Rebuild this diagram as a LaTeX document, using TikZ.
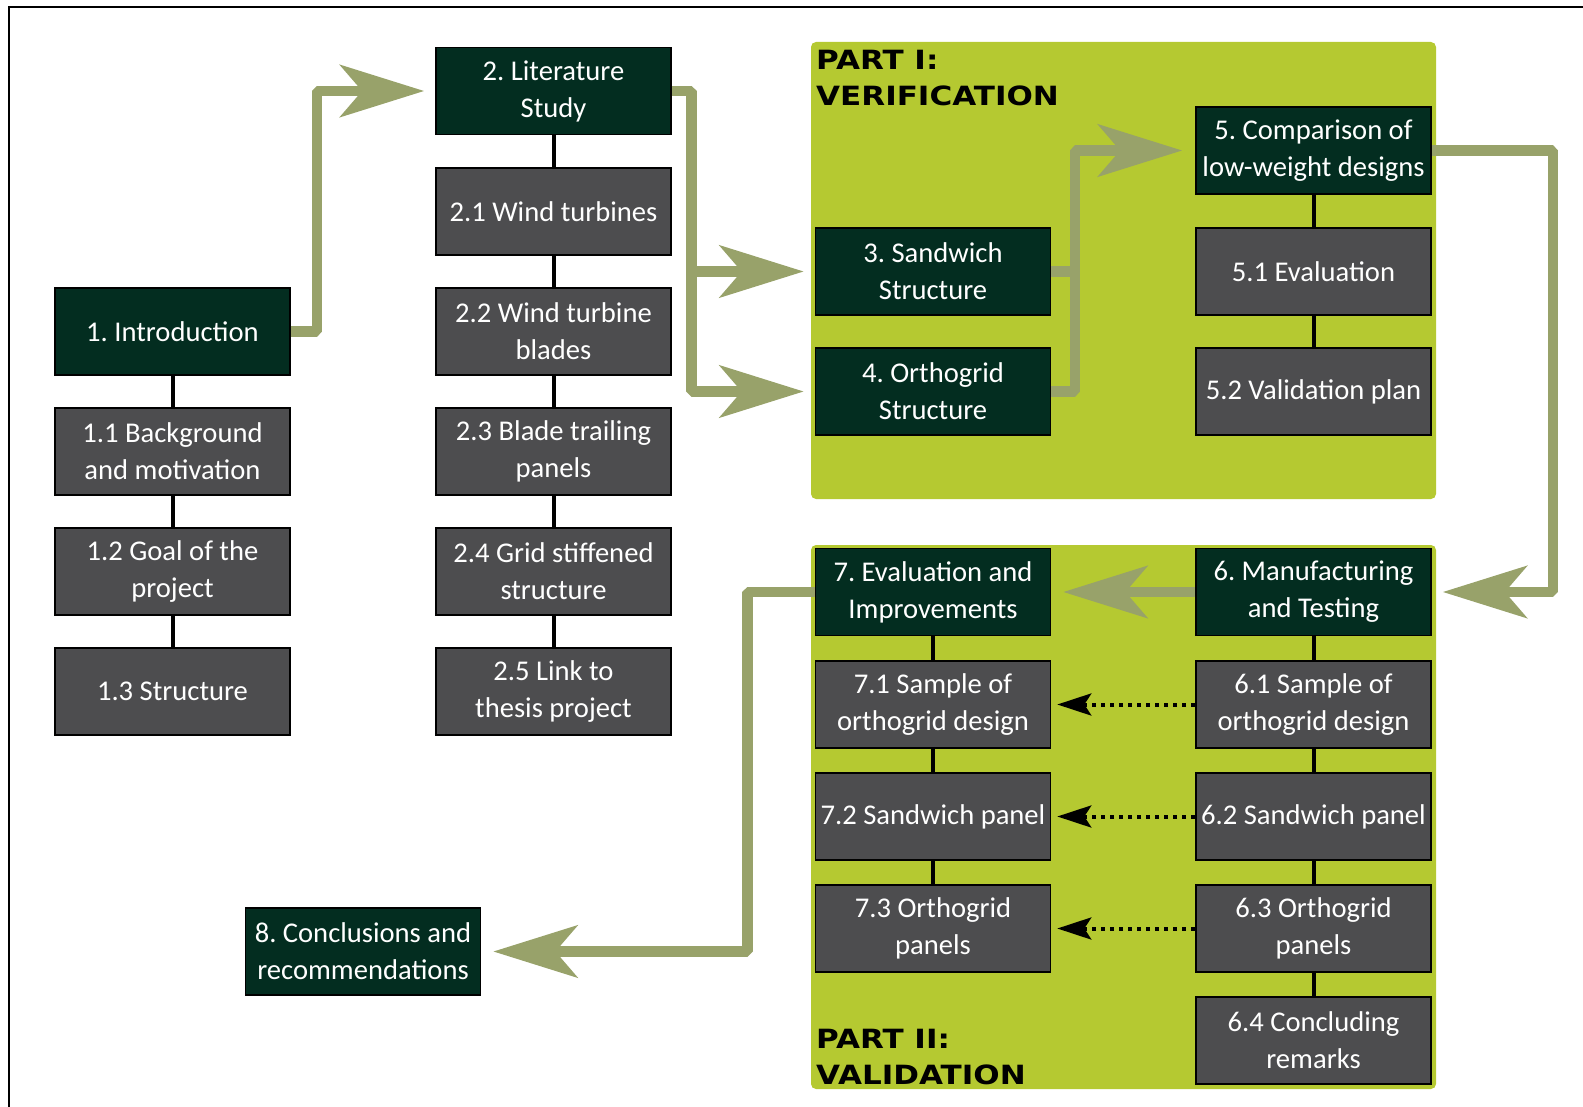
\documentclass[tikz,border=0pt]{standalone}
\usepackage{fontspec}
\setmainfont{Carlito}
\newfontfamily\titlefont{DejaVu Sans}[FakeStretch=1.17]
\usetikzlibrary{arrows.meta,calc}
\frenchspacing

\definecolor{headgreen}{RGB}{3,45,32}
\definecolor{subgrey}{RGB}{77,77,79}
\definecolor{partlime}{RGB}{181,201,49}
\definecolor{flowgreen}{RGB}{152,162,106}

\tikzset{
  box/.style={draw=black, line width=1.6pt, minimum width=235pt, minimum height=87pt,
              inner sep=2pt, align=center, text=white,
              font=\frenchspacing\fontsize{28.6}{37}\selectfont},
  headbox/.style={box, fill=headgreen},
  subbox/.style={box, fill=subgrey},
  partpanel/.style={fill=partlime, rounded corners=5pt},
  parttitle/.style={inner sep=0pt, align=left, text=black,
              font=\titlefont\bfseries\fontsize{26.5}{35.5}\selectfont},
  link/.style={draw=black, line width=4pt},
  flowline/.style={draw=flowgreen, line width=10.5pt, line join=bevel},
  flow/.style={flowline, -{Stealth[length=84pt,width=52pt,inset=22pt]}},
  hint/.style={draw=black, line width=4pt, dash pattern=on 4pt off 5pt,
              -{Stealth[length=34pt,width=22pt,inset=7pt]}},
}

\begin{document}
\begin{tikzpicture}[x=1pt,y=-1pt]
\useasboundingbox (0,0) rectangle (1583,1107);

% outer frame (top and left edges)
\draw[line width=2pt] (9,1107) -- (9,7) -- (1583,7);

% the two part panels
\fill[partpanel] (811,42) rectangle (1436,499);
\fill[partpanel] (811,545) rectangle (1436,1089);
\node[parttitle, anchor=north west] (t1) at (816,50) {PART I:\\VERIFICATION};
\node[parttitle, anchor=north west] (t2) at (816,1029) {PART II:\\VALIDATION};

% chapter 1
\node[headbox] (c1)  at (172.5,331.5) {1. Introduction};
\node[subbox]  (c11) at (172.5,451.5) {1.1 Background\\and motivation};
\node[subbox]  (c12) at (172.5,571.5) {1.2 Goal of the\\project};
\node[subbox]  (c13) at (172.5,691.5) {1.3 Structure};

% chapter 2
\node[headbox] (c2)  at (553.5,91)    {2. Literature\\Study};
\node[subbox]  (c21) at (553.5,211.5) {2.1 Wind turbines};
\node[subbox]  (c22) at (553.5,331.5) {2.2 Wind turbine\\blades};
\node[subbox]  (c23) at (553.5,451.5) {2.3 Blade trailing\\panels};
\node[subbox]  (c24) at (553.5,571.5) {2.4 Grid stiffened\\structure};
\node[subbox]  (c25) at (553.5,691.5) {2.5 Link to\\thesis project};

% chapters 3 and 4
\node[headbox] (c3) at (933,271.5) {3. Sandwich\\Structure};
\node[headbox] (c4) at (933,391.5) {4. Orthogrid\\Structure};

% chapter 5
\node[headbox] (c5)  at (1313.5,150.5) {5. Comparison of\\low-weight designs};
\node[subbox]  (c51) at (1313.5,271.5) {5.1 Evaluation};
\node[subbox]  (c52) at (1313.5,391.5) {5.2 Validation plan};

% chapter 6
\node[headbox] (c6)  at (1313.5,592)    {6. Manufacturing\\and Testing};
\node[subbox]  (c61) at (1313.5,704.5)  {6.1 Sample of\\orthogrid design};
\node[subbox]  (c62) at (1313.5,816.5)  {6.2 Sandwich panel};
\node[subbox]  (c63) at (1313.5,928.5)  {6.3 Orthogrid\\panels};
\node[subbox]  (c64) at (1313.5,1040.5) {6.4 Concluding\\remarks};

% chapter 7
\node[headbox] (c7)  at (933,592)   {7. Evaluation and\\Improvements};
\node[subbox]  (c71) at (933,704.5) {7.1 Sample of\\orthogrid design};
\node[subbox]  (c72) at (933,816.5) {7.2 Sandwich panel};
\node[subbox]  (c73) at (933,928.5) {7.3 Orthogrid\\panels};

% chapter 8
\node[headbox] (c8) at (363,951.5) {8. Conclusions and\\recommendations};

% section links
\draw[link] (c1) -- (c11) (c11) -- (c12) (c12) -- (c13);
\draw[link] (c2) -- (c21) (c21) -- (c22) (c22) -- (c23) (c23) -- (c24) (c24) -- (c25);
\draw[link] (c5) -- (c51) (c51) -- (c52);
\draw[link] (c6) -- (c61) (c61) -- (c62) (c62) -- (c63) (c63) -- (c64);
\draw[link] (c7) -- (c71) (c71) -- (c72) (c72) -- (c73);

% reading order
\draw[flow] (c1.east) -| ($(c2.west)+(-118,0)$) -- ($(c2.west)+(-11,0)$);
\draw[flow] (c2.east) -| ($(c4.west)+(-123,0)$) -- ($(c4.west)+(-11,0)$);
\draw[flow] ($(c3.west)+(-123,0)$) -- ($(c3.west)+(-11,0)$);
\draw[flow] (c4.east) -| ($(c5.west)+(-120,0)$) -- ($(c5.west)+(-13,0)$);
\draw[flowline] (c3.east) -- ++(26,0);
\draw[flow] (c5.east) -| ($(c6.east)+(121,0)$) -- ($(c6.east)+(11,0)$);
\draw[flow] (c6.west) -- ($(c7.east)+(12,0)$);
\draw[flow] (c7.west) -| ($(c8.east)+(266,0)$) -- ($(c8.east)+(12,0)$);

% results feeding the evaluation
\draw[hint] (c61.west) -- ($(c71.east)+(6,0)$);
\draw[hint] (c62.west) -- ($(c72.east)+(6,0)$);
\draw[hint] (c63.west) -- ($(c73.east)+(6,0)$);
\end{tikzpicture}
\end{document}
